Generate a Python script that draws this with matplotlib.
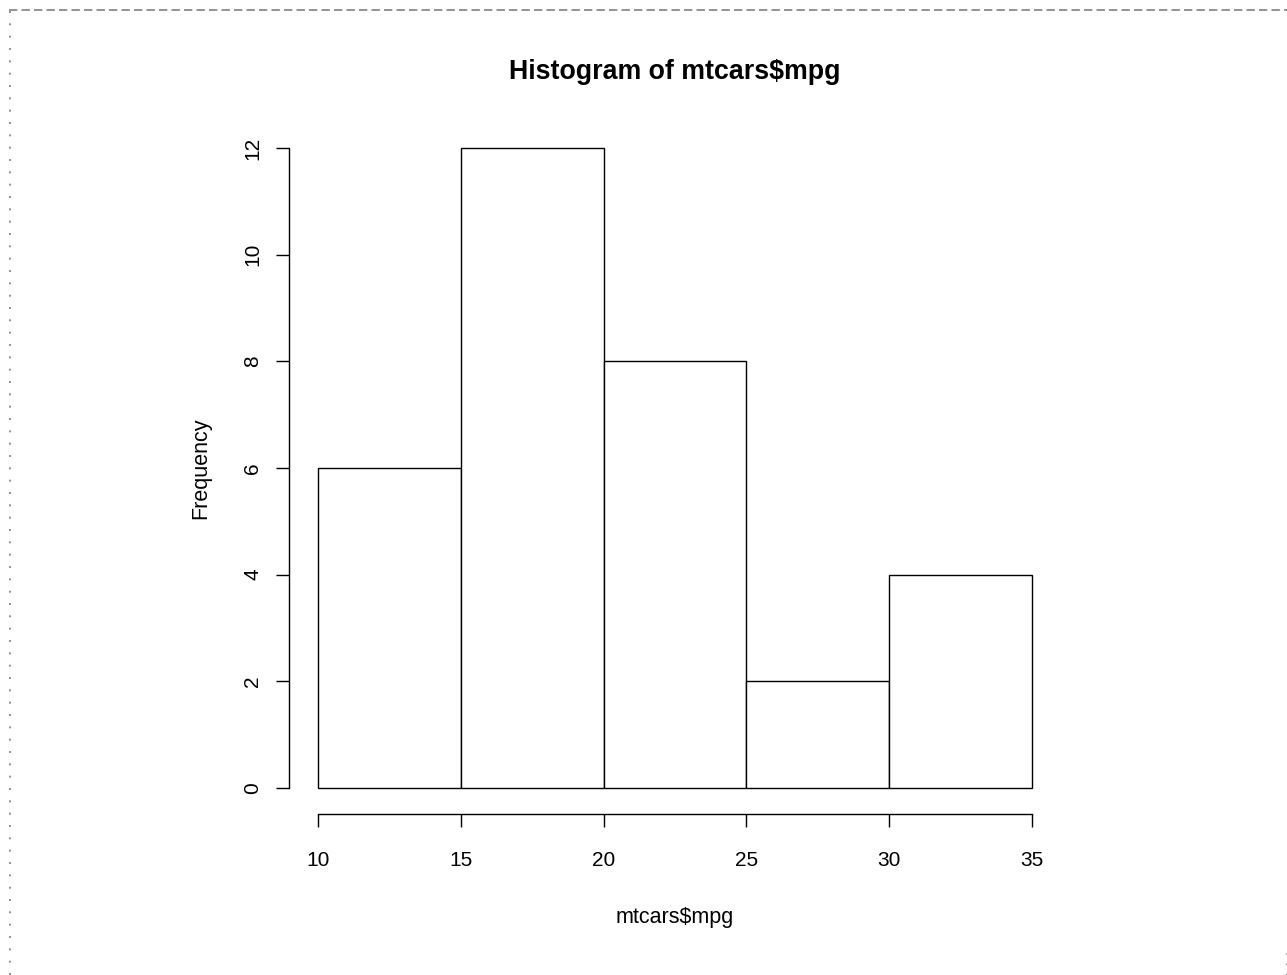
import numpy as np
import matplotlib
matplotlib.use("Agg")
import matplotlib.pyplot as plt
from matplotlib.lines import Line2D

# Histogram data (bin edges and counts)
bin_edges = [10, 15, 20, 25, 30, 35]
counts = [6, 12, 8, 2, 4]
x_ticks = [10, 15, 20, 25, 30, 35]
y_ticks = [0, 2, 4, 6, 8, 10, 12]

plt.rcParams['font.family'] = ['Liberation Sans', 'DejaVu Sans']

W, H = 1287, 975
fig = plt.figure(figsize=(W / 100, H / 100), dpi=100)
ax = fig.add_axes([289.4 / W, 1 - 813.6 / H, (1060.6 - 289.4) / W, (813.6 - 122.4) / H])

lefts = bin_edges[:-1]
widths = np.diff(bin_edges)
ax.bar(lefts, counts, width=widths, align='edge', facecolor='white',
       edgecolor='black', linewidth=1.0)

ax.set_xlim(9, 36)
ax.set_ylim(-0.48, 12.48)
ax.set_xticks(x_ticks)
ax.set_yticks(y_ticks)
for s in ['top', 'right']:
    ax.spines[s].set_visible(False)
ax.spines['left'].set_bounds(0, 12)
ax.spines['bottom'].set_bounds(10, 35)
ax.spines['left'].set_linewidth(1.0)
ax.spines['bottom'].set_linewidth(1.0)
ax.tick_params(axis='both', direction='out', length=9.4, width=1.0, labelsize=15)
ax.tick_params(axis='x', pad=17.5)
ax.tick_params(axis='y', pad=10)
for lab in ax.get_yticklabels():
    lab.set_rotation(90)
    lab.set_va('center')

ax.set_title('Histogram of mtcars$mpg', fontsize=19.3, fontweight='bold', pad=31)
ax.set_xlabel('mtcars$mpg', fontsize=15.5, labelpad=27)
ax.set_ylabel('Frequency', fontsize=15.5, labelpad=23)

# page border (dashed top, dotted left, short dotted right)
fig.add_artist(Line2D([9 / W, 1], [1 - 9.5 / H, 1 - 9.5 / H], transform=fig.transFigure,
                      color='#808080', lw=1.2, dashes=(5, 2.5)))
fig.add_artist(Line2D([9.5 / W, 9.5 / W], [0, 1 - 9.5 / H], transform=fig.transFigure,
                      color='#808080', lw=1.2, dashes=(1.2, 6.2)))
fig.add_artist(Line2D([1285.5 / W, 1285.5 / W], [0, 1 - 950 / H], transform=fig.transFigure,
                      color='#a0a0a0', lw=1.0, dashes=(1.2, 6.2)))

fig.savefig('out.png', dpi=100)
